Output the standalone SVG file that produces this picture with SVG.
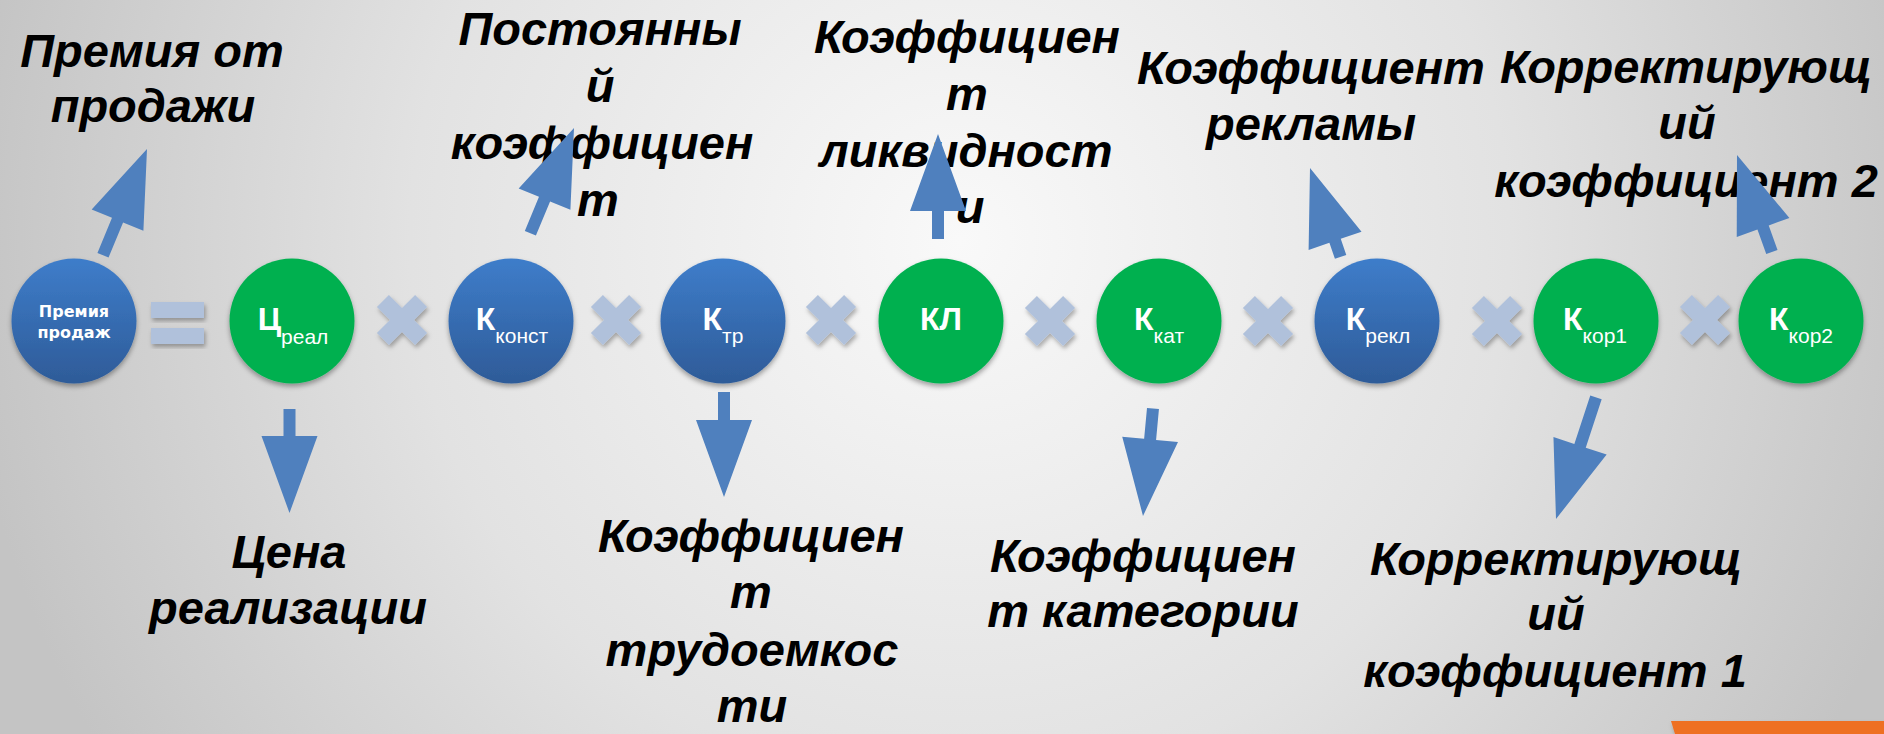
<svg xmlns="http://www.w3.org/2000/svg" xmlns:xlink="http://www.w3.org/1999/xlink" width="1884" height="734" viewBox="0 0 1884 734">
<defs>
<radialGradient id="bg" gradientUnits="userSpaceOnUse" cx="960" cy="240" r="1000">
<stop offset="0" stop-color="#F9F9F9"/>
<stop offset="0.55" stop-color="#E2E2E2"/>
<stop offset="1" stop-color="#C4C4C4"/>
</radialGradient>
<linearGradient id="blue" x1="0" y1="0" x2="0" y2="1">
<stop offset="0" stop-color="#3E7DCA"/>
<stop offset="1" stop-color="#2E5B98"/>
</linearGradient>
<filter id="sh" x="-20%" y="-20%" width="140%" height="150%">
<feDropShadow dx="0" dy="3" stdDeviation="2.5" flood-color="#000" flood-opacity="0.35"/>
</filter>
<filter id="sh2" x="-30%" y="-30%" width="160%" height="160%">
<feDropShadow dx="1.5" dy="3" stdDeviation="2" flood-color="#000" flood-opacity="0.3"/>
</filter>
<polygon id="mul" points="-8.5,-27 8.5,-27 8.5,-8.5 27,-8.5 27,8.5 8.5,8.5 8.5,27 -8.5,27 -8.5,8.5 -27,8.5 -27,-8.5 -8.5,-8.5" transform="rotate(45)"/>
</defs>
<style>
.lbl{font-family:"Liberation Sans",Arial,sans-serif;font-weight:bold;font-style:italic;font-size:47px;fill:#000;text-anchor:middle}
.cb{fill:url(#blue);filter:url(#sh)}
.cg{fill:#00B050;filter:url(#sh)}
.big{font-family:"Liberation Sans",Arial,sans-serif;font-weight:bold;font-size:32px;fill:#fff}
.sub{font-family:"Liberation Sans",Arial,sans-serif;font-weight:normal;font-size:21px;fill:#fff}
.ct{text-anchor:middle}
.sm{font-family:"DejaVu Sans",Verdana,sans-serif;font-weight:bold;font-size:16px;fill:#fff;text-anchor:middle}
.op{fill:#B0C1DB;filter:url(#sh2)}
.arr{fill:#4F80BE}
</style>
<rect x="0" y="0" width="1884" height="734" fill="url(#bg)"/>

<!-- operators -->
<g id="operators">
<rect class="op" x="151" y="302" width="53" height="16"/>
<rect class="op" x="151" y="328" width="53" height="16"/>
<use xlink:href="#mul" class="op" x="402" y="320"/>
<use xlink:href="#mul" class="op" x="616" y="320"/>
<use xlink:href="#mul" class="op" x="831" y="320"/>
<use xlink:href="#mul" class="op" x="1050" y="321"/>
<use xlink:href="#mul" class="op" x="1268" y="321"/>
<use xlink:href="#mul" class="op" x="1497" y="321"/>
<use xlink:href="#mul" class="op" x="1705" y="320"/>
</g>

<!-- nodes -->
<g id="n-premia">
<circle class="cb" cx="74" cy="321" r="62.5"/>
<text class="sm" x="74" y="317">Премия</text>
<text class="sm" x="74" y="338">продаж</text>
</g>
<g id="n-creal">
<circle class="cg" cx="292" cy="321" r="62.5"/>
<text class="ct" x="293" y="330"><tspan class="big">Ц</tspan><tspan class="sub" dy="14">реал</tspan></text>
</g>
<g id="n-kconst">
<circle class="cb" cx="511" cy="321" r="62.5"/>
<text class="ct" x="512" y="330"><tspan class="big">К</tspan><tspan class="sub" dy="13">конст</tspan></text>
</g>
<g id="n-ktr">
<circle class="cb" cx="723" cy="321" r="62.5"/>
<text class="ct" x="723" y="330"><tspan class="big">К</tspan><tspan class="sub" dy="13">тр</tspan></text>
</g>
<g id="n-kl">
<circle class="cg" cx="941" cy="321" r="62.5"/>
<text class="ct big" x="941" y="330">КЛ</text>
</g>
<g id="n-kkat">
<circle class="cg" cx="1159" cy="321" r="62.5"/>
<text class="ct" x="1159" y="330"><tspan class="big">К</tspan><tspan class="sub" dy="13">кат</tspan></text>
</g>
<g id="n-krekl">
<circle class="cb" cx="1377" cy="321" r="62.5"/>
<text class="ct" x="1378" y="330"><tspan class="big">К</tspan><tspan class="sub" dy="13">рекл</tspan></text>
</g>
<g id="n-kkor1">
<circle class="cg" cx="1596" cy="321" r="62.5"/>
<text class="ct" x="1595" y="330"><tspan class="big">К</tspan><tspan class="sub" dy="13">кор1</tspan></text>
</g>
<g id="n-kkor2">
<circle class="cg" cx="1801" cy="321" r="62.5"/>
<text class="ct" x="1801" y="330"><tspan class="big">К</tspan><tspan class="sub" dy="13">кор2</tspan></text>
</g>

<!-- labels -->
<g id="l-premia">
<text class="lbl" x="152" y="67">Премия от</text>
<text class="lbl" x="153" y="122">продажи</text>
</g>
<g id="l-const">
<text class="lbl" x="600" y="45">Постоянны</text>
<text class="lbl" x="600" y="102">й</text>
<text class="lbl" x="602" y="159">коэффициен</text>
<text class="lbl" x="598" y="216">т</text>
</g>
<g id="l-kl">
<text class="lbl" x="967" y="53">Коэффициен</text>
<text class="lbl" x="967" y="110">т</text>
<text class="lbl" x="966" y="167">ликвидност</text>
<text class="lbl" x="970" y="223">и</text>
</g>
<g id="l-rekl">
<text class="lbl" x="1311" y="84">Коэффициент</text>
<text class="lbl" x="1311" y="140">рекламы</text>
</g>
<g id="l-kor2">
<text class="lbl" x="1686" y="83">Корректирующ</text>
<text class="lbl" x="1687" y="139">ий</text>
<text class="lbl" x="1686" y="197">коэффициент 2</text>
</g>
<g id="l-creal">
<text class="lbl" x="289" y="568">Цена</text>
<text class="lbl" x="288" y="624">реализации</text>
</g>
<g id="l-ktr">
<text class="lbl" x="751" y="552">Коэффициен</text>
<text class="lbl" x="751" y="608">т</text>
<text class="lbl" x="752" y="666">трудоемкос</text>
<text class="lbl" x="752" y="722">ти</text>
</g>
<g id="l-kkat">
<text class="lbl" x="1143" y="572">Коэффициен</text>
<text class="lbl" x="1143" y="627">т категории</text>
</g>
<g id="l-kor1">
<text class="lbl" x="1556" y="575">Корректирующ</text>
<text class="lbl" x="1556" y="630">ий</text>
<text class="lbl" x="1555" y="687">коэффициент 1</text>
</g>

<!-- connectors -->
<g id="connectors" class="arr">
<path transform="translate(147,149) rotate(22.5)" d="M0,0 L28,77 L6,77 L6,115 L-6,115 L-6,77 L-28,77 Z"/>
<path transform="translate(574,128) rotate(22.5)" d="M0,0 L28,77 L6,77 L6,114 L-6,114 L-6,77 L-28,77 Z"/>
<path transform="translate(938,134)" d="M0,0 L28,77 L6,77 L6,105 L-6,105 L-6,77 L-28,77 Z"/>
<path transform="translate(1310,168) rotate(-19)" d="M0,0 L28,77 L6,77 L6,94 L-6,94 L-6,77 L-28,77 Z"/>
<path transform="translate(1737,155) rotate(-19.8)" d="M0,0 L28,77 L6,77 L6,103 L-6,103 L-6,77 L-28,77 Z"/>
<path transform="translate(289.5,513) rotate(180)" d="M0,0 L28,77 L6,77 L6,104 L-6,104 L-6,77 L-28,77 Z"/>
<path transform="translate(724,497) rotate(180)" d="M0,0 L28,77 L6,77 L6,105 L-6,105 L-6,77 L-28,77 Z"/>
<path transform="translate(1143,516) rotate(185.3)" d="M0,0 L28,77 L6,77 L6,108 L-6,108 L-6,77 L-28,77 Z"/>
<path transform="translate(1556,519) rotate(198.2)" d="M0,0 L28,77 L6,77 L6,128 L-6,128 L-6,77 L-28,77 Z"/>
</g>

<!-- corner decoration -->
<g id="corner">
<polygon points="1671,721 1884,721 1884,734 1675,734" fill="#EE6F22" filter="url(#sh2)"/>
</g>
</svg>
